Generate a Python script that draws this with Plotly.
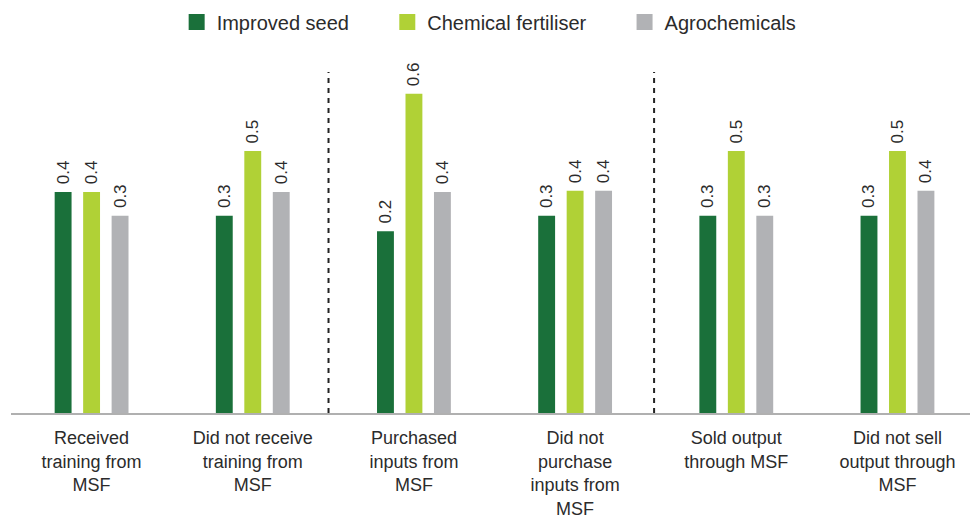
import plotly.graph_objects as go

categories = [
    "Received<br>training from<br>MSF",
    "Did not receive<br>training from<br>MSF",
    "Purchased<br>inputs from<br>MSF",
    "Did not<br>purchase<br>inputs from<br>MSF",
    "Sold output<br>through MSF",
    "Did not sell<br>output through<br>MSF",
]
series_names = ["Improved seed", "Chemical fertiliser", "Agrochemicals"]

improved_seed = [0.417, 0.372, 0.343, 0.372, 0.372, 0.372]
chemical_fertiliser = [0.417, 0.494, 0.602, 0.419, 0.494, 0.494]
agrochemicals = [0.372, 0.417, 0.417, 0.419, 0.372, 0.419]

improved_seed_labels = ["0.4", "0.3", "0.2", "0.3", "0.3", "0.3"]
chemical_fertiliser_labels = ["0.4", "0.5", "0.6", "0.4", "0.5", "0.5"]
agrochemicals_labels = ["0.3", "0.4", "0.4", "0.4", "0.3", "0.4"]

colors = ["#1a703a", "#b0d136", "#b1b2b5"]
dividers = [1.47, 3.49]

FONT = "Liberation Sans, Arial, sans-serif"
TEXT_COLOR = "#2b2b2b"
NBSP = "\u00a0"

x = list(range(len(categories)))
fig = go.Figure()
n = len(series_names)
for i, (name, vals, labels, col) in enumerate(zip(
    series_names,
    [improved_seed, chemical_fertiliser, agrochemicals],
    [improved_seed_labels, chemical_fertiliser_labels, agrochemicals_labels],
    colors,
)):
    fig.add_trace(go.Bar(
        x=x, y=vals, name=name, marker=dict(color=col, line=dict(width=0)),
        text=[NBSP + t for t in labels], textposition="outside", textangle=-90,
        textfont=dict(family=FONT, size=17, color=TEXT_COLOR),
        constraintext="none", cliponaxis=False, hoverinfo="skip",
        showlegend=False,
    ))
    # legend entry with a larger square swatch
    fig.add_trace(go.Scatter(
        x=[None], y=[None], mode="markers",
        name=name + (NBSP * 6 if i < n - 1 else ""),
        marker=dict(symbol="square", size=16, color=col),
        showlegend=True, hoverinfo="skip",
    ))

for d in dividers:
    fig.add_shape(type="line", xref="x", yref="paper", x0=d, x1=d, y0=0, y1=0.994,
                  line=dict(color="#222222", width=2, dash="5px,5px"), layer="below")

fig.update_layout(
    width=973, height=518,
    margin=dict(l=11, r=3, t=70, b=105, autoexpand=False),
    paper_bgcolor="white", plot_bgcolor="white",
    barmode="group", bargap=0.47, bargroupgap=0.407,
    font=dict(family=FONT, color=TEXT_COLOR),
    showlegend=True,
    legend=dict(orientation="h", x=0.4986, xanchor="center", yref="container",
                y=0.995, yanchor="top", font=dict(size=20, color=TEXT_COLOR),
                itemsizing="trace", itemclick=False, traceorder="normal"),
    xaxis=dict(range=[-0.5, 5.45], tickmode="array", tickvals=x, ticktext=categories,
               showgrid=False, zeroline=False, showline=True, linecolor="#b0b0b0",
               linewidth=1.5, ticks="", tickfont=dict(size=18, color=TEXT_COLOR),
               automargin=False, ticklabelstandoff=8, fixedrange=True),
    yaxis=dict(range=[0, 0.647], visible=False, fixedrange=True),
)

fig.write_html("out.html", config={"displayModeBar": False})
